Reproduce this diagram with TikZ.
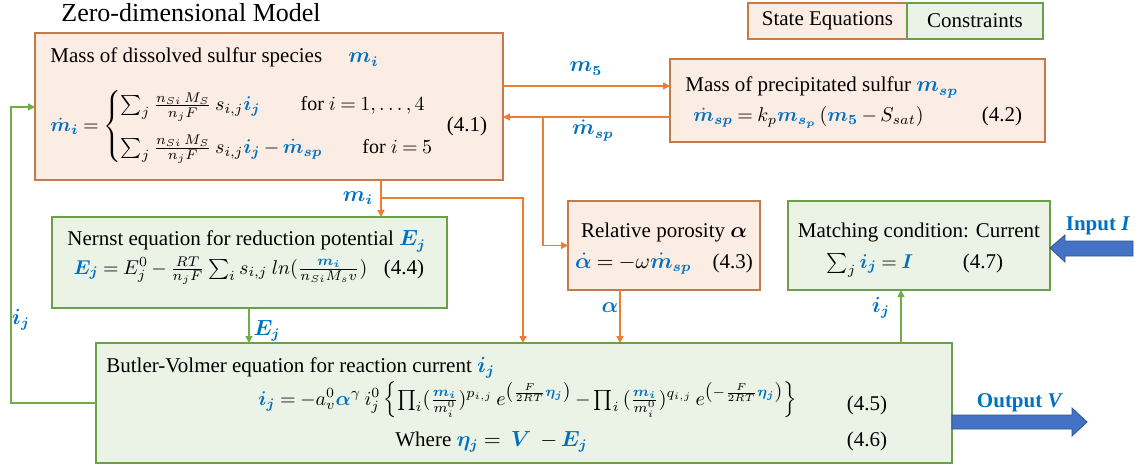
\documentclass[tikz,border=0pt]{standalone}
\usepackage{amsmath,bm}
\usepackage{fontspec}
\setmainfont{Liberation Serif}
\usetikzlibrary{arrows.meta,positioning}

\definecolor{stateedge}{RGB}{197,122,74}
\definecolor{statefill}{RGB}{252,237,228}
\definecolor{flowor}{RGB}{237,125,49}
\definecolor{consedge}{RGB}{106,160,72}
\definecolor{consfill}{RGB}{235,243,230}
\definecolor{flowgr}{RGB}{112,173,71}
\definecolor{varblue}{RGB}{0,112,192}
\definecolor{bigblue}{RGB}{68,114,196}
\definecolor{bigedge}{RGB}{47,82,143}

\newcommand{\bv}[1]{\textcolor{varblue}{\bm{#1}}}
\medmuskip=3mu plus 2mu minus 2mu
\thickmuskip=4mu plus 3mu minus 1mu

\tikzset{
  statebox/.style={draw=stateedge, fill=statefill, line width=0.9pt, inner sep=0pt, outer sep=0pt},
  consbox/.style={draw=consedge, fill=consfill, line width=0.9pt, inner sep=0pt, outer sep=0pt},
  txt/.style={inner sep=0pt, font=\fontsize{10.5}{12.5}\selectfont},
  eqn/.style={inner sep=0pt, font=\fontsize{10}{12}\selectfont},
  lbl/.style={txt, text=varblue, anchor=base},
  oflow/.style={draw=flowor, line width=0.75pt, -{Triangle[length=3.5pt,width=3.5pt]}},
  gflow/.style={draw=flowgr, line width=0.75pt, -{Triangle[length=3.5pt,width=3.5pt]}},
  bigarrow/.style={fill=bigblue, draw=bigedge, line width=0.4pt},
}

\begin{document}
\begin{tikzpicture}[x=0.5pt, y=-0.5pt]
    \useasboundingbox (0,0) rectangle (1147,465);

    % Title and legend
    \node[txt, anchor=base west, font=\fontsize{13}{15}\selectfont] (title) at (61,22) {Zero-dimensional Model};
    \node[statebox, txt, minimum width=79.5pt, minimum height=18pt] (legstate) at (827.5,21) {State Equations};
    \node[consbox, txt, minimum width=68pt, minimum height=18pt] (legcons) at (975,21) {Constraints};

    % Mass of dissolved sulfur species
    \node[statebox, minimum width=234pt, minimum height=73.5pt] (mass) at (269,106.5) {};
    \node[txt, anchor=base west] (massT) at (50,63) {Mass of dissolved sulfur species \quad $\bv{m_i}$};
    \node[eqn, anchor=base west] (massEq) at (50,132) {$\bv{\dot m_i} = \begin{cases}
        \sum_j \frac{n_{Si}\,M_S}{n_jF}\, s_{i,j}\bv{i_j} \qquad \text{for } i = 1, \dots, 4\\[7pt]
        \sum_j \frac{n_{Si}\,M_S}{n_jF}\, s_{i,j}\bv{i_j} - \bv{\dot m_{sp}} \qquad \text{for } i = 5
      \end{cases}$};
    \node[txt, anchor=base] (massNo) at (467,132) {(4.1)};

    % Mass of precipitated sulfur
    \node[statebox, minimum width=187.5pt, minimum height=41.5pt] (precip) at (857.5,100.5) {};
    \node[txt, anchor=base west] (precipT) at (685,92) {Mass of precipitated sulfur $\bv{m_{sp}}$};
    \node[eqn, anchor=base west] (precipEq) at (693,122) {$\bv{\dot m_{sp}} = k_p\bv{m_{s_p}}\,(\bv{m_5} - S_{sat})$};
    \node[txt, anchor=base] (precipNo) at (1002,122) {(4.2)};

    % Relative porosity
    \node[statebox, minimum width=96pt, minimum height=44.5pt] (poros) at (664,245.5) {};
    \node[txt, anchor=base] (porosT) at (664,237) {Relative porosity $\bm{\alpha}$};
    \node[txt, anchor=base] (porosEq) at (664,268) {$\bv{\dot\alpha} = -\omega\bv{\dot m_{sp}}$\quad (4.3)};

    % Nernst equation
    \node[consbox, minimum width=197.5pt, minimum height=45.5pt] (nernst) at (249.5,262.5) {};
    \node[txt, anchor=base west] (nernstT) at (67,246) {Nernst equation for reduction potential $\bv{E_j}$};
    \node[eqn, anchor=base west] (nernstEq) at (73,274) {$\bv{E_j} = E_j^0 - \frac{RT}{n_jF}\sum_i s_{i,j}\; ln(\frac{\bv{m_i}}{n_{Si}M_sv})$};
    \node[txt, anchor=base] (nernstNo) at (404,274) {(4.4)};

    % Matching condition
    \node[consbox, minimum width=131pt, minimum height=44.5pt] (match) at (919,245.5) {};
    \node[txt, anchor=base] (matchT) at (919,237) {Matching condition: Current};
    \node[eqn, anchor=base] (matchEq) at (870,268) {$\sum_j \bv{i_j} = \bv{I}$};
    \node[txt, anchor=base] (matchNo) at (983,268) {(4.7)};

    % Butler-Volmer equation
    \node[consbox, minimum width=428pt, minimum height=60pt] (butler) at (524,403) {};
    \node[txt, anchor=base west] (butlerT) at (106,372) {Butler-Volmer equation for reaction current $\bv{i_j}$};
    \node[eqn, anchor=base west] (butlerEq) at (258,405) {$\bv{i_j} = -a_v^0\bv{\alpha}^{\gamma}\, i_j^0\left\{\prod_i(\tfrac{\bv{m_i}}{m_i^0})^{p_{i,j}}\, e^{\left(\frac{F}{2RT}\bv{\eta_j}\right)} - \prod_i\, (\tfrac{\bv{m_i}}{m_i^0})^{q_{i,j}}\, e^{\left(-\frac{F}{2RT}\bv{\eta_j}\right)}\right\}$};
    \node[txt, anchor=base] (butlerNo) at (867,410) {(4.5)};
    \node[txt, anchor=base west] (whereEq) at (395,446) {Where $\bv{\eta_j} =\ \bv{V}\ - \bv{E_j}$};
    \node[txt, anchor=base] (whereNo) at (867,446) {(4.6)};

    % Orange flows
    \coordinate (mspTap) at (543,117);
    \coordinate (miTap) at (381,198);
    \draw[oflow] (mass.east |- 0,86) -- (precip.west |- 0,86);
    \draw[oflow] (precip.west |- 0,117) -- (mass.east |- 0,117);
    \draw[oflow] (mspTap) |- (poros.west);
    \draw[oflow] (mass.south -| miTap) -- (nernst.north -| miTap);
    \draw[oflow] (miTap) -| (butler.north -| 523,0);
    \draw[oflow] (poros.south -| 620,0) -- (butler.north -| 620,0);
    \node[lbl] (lm5) at (586,72) {$\bm{m_5}$};
    \node[lbl] (lmsp) at (593,135) {$\bm{\dot m_{sp}}$};
    \node[lbl] (lmi) at (358,201) {$\bm{m_i}$};
    \node[lbl] (lalpha) at (610,312) {$\bm{\alpha}$};

    % Green flows
    \draw[gflow] (nernst.south -| 249,0) -- (butler.north -| 249,0);
    \draw[gflow] (butler.north -| 901,0) -- (match.south -| 901,0);
    \draw[gflow] (butler.west) -- ++(-85,0) |- (mass.west |- 0,107);
    \node[lbl] (lEj) at (267,335) {$\bm{E_j}$};
    \node[lbl] (lijr) at (881,312) {$\bm{i_j}$};
    \node[lbl] (lijl) at (21,324) {$\bm{i_j}$};

    % Input and output
    \draw[bigarrow] (match.east |- 0,248) -- (1065,235) -- (1065,241) -- (1133,241)
        -- (1133,256) -- (1065,256) -- (1065,262) -- cycle;
    \draw[bigarrow] (butler.east |- 0,415) -- (1072,415) -- (1072,408) -- (1087,422)
        -- (1072,436) -- (1072,429) -- (butler.east |- 0,429) -- cycle;
    \node[lbl] (lin) at (1098,230) {\textbf{Input \textit{I}}};
    \node[lbl] (lout) at (1020,407) {\textbf{Output \textit{V}}};
\end{tikzpicture}
\end{document}
